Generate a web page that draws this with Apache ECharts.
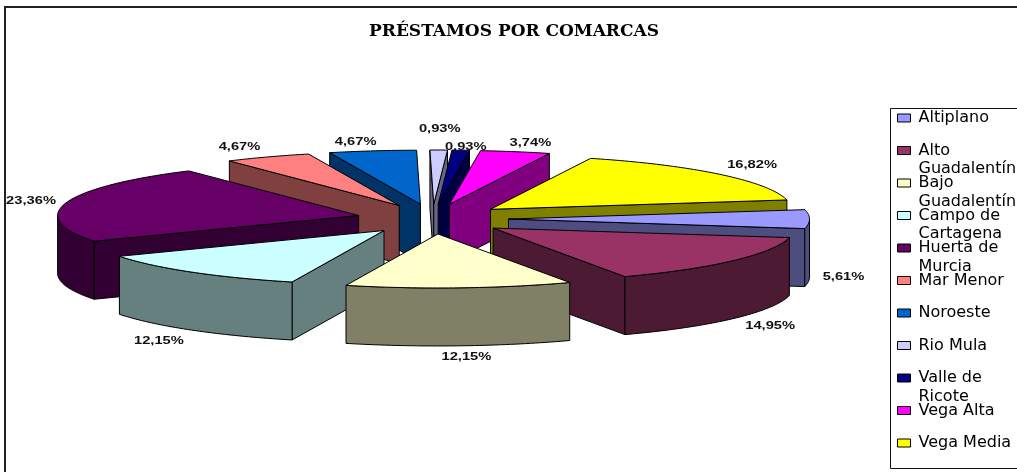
<!DOCTYPE html>
<html>
<head>
<meta charset="utf-8">
<style>html,body{margin:0;padding:0;background:#fff;overflow:hidden}#c{width:1017px;height:472px}</style>
<script src="https://cdn.jsdelivr.net/npm/echarts@6/dist/echarts.min.js"></script>
</head>
<body>
<div id="c"></div>
<script>
const categories = ['Altiplano','Alto Guadalentín','Bajo Guadalentín','Campo de Cartagena','Huerta de Murcia','Mar Menor','Noroeste','Rio Mula','Valle de Ricote','Vega Alta','Vega Media'];
const values = [5.61,14.95,12.15,12.15,23.36,4.67,4.67,0.93,0.93,3.74,16.82];
const colors = ['#9999FF','#993366','#FFFFCC','#CCFFFF','#660066','#FF8080','#0066CC','#CCCCFF','#000080','#FF00FF','#FFFF00'];
const legendLines = ['Altiplano','Alto\nGuadalentín','Bajo\nGuadalentín','Campo de\nCartagena','Huerta de\nMurcia','Mar Menor','Noroeste','Rio Mula','Valle de\nRicote','Vega Alta','Vega Media'];
const labelNudges = [[34,58],[37,65],[7,69],[-33,69],[-35,-2],[-28,-10],[-17,-9],[1,-21],[5,-3],[15,-9],[32,-9]];

const cx = 432.5, cy = 219, rx = 301, ry = 54, ex = 76, ey = 15, depth = 58, firstAngle = 80;
const total = values.reduce((a,b)=>a+b,0);
const rad = d => d*Math.PI/180;
const shade = hex => '#'+[1,3,5].map(i=>Math.round(parseInt(hex.substr(i,2),16)/2).toString(16).padStart(2,'0')).join('');
const text = v => v.toFixed(2).replace('.',',')+'%';

const spans = [];
values.reduce((acc,v)=>{ const a = acc + v/total*360; spans.push([acc,a]); return a; }, firstAngle);
const apexOf = i => { const m = rad((spans[i][0]+spans[i][1])/2); return [cx+ex*Math.sin(m), cy-ey*Math.cos(m)]; };
const order = values.map((_,i)=>i).sort((a,b)=>apexOf(a)[1]-apexOf(b)[1]);

function renderSlice(i, params, api){
  const v = api.value(0);
  const [a0,a1] = spans[i];
  const A = apexOf(i);
  const P = d => [A[0]+rx*Math.sin(rad(d)), A[1]-ry*Math.cos(rad(d))];
  const down = p => [p[0],p[1]+depth];
  const stroke = {stroke:'#000',lineWidth:1,lineJoin:'round'};
  const wallFill = shade(colors[i]);
  const kids = [];
  const M = P((a0+a1)/2);
  [a0,a1].forEach(d=>{
    const R = P(d), dx = R[0]-A[0], dy = R[1]-A[1];
    const cross = dx*(M[1]-A[1]) - dy*(M[0]-A[0]);
    if (cross*dx < 0) kids.push({type:'polygon',shape:{points:[A,R,down(R),down(A)]},style:Object.assign({fill:wallFill},stroke)});
  });
  // outer rim: only the stretch that faces the viewer (90..270 degrees)
  for (const shift of [0,360]) {
    const s = Math.max(a0,90+shift), e = Math.min(a1,270+shift);
    if (e > s) {
      const top = [];
      for (let d=s; d<e; d+=1) top.push(P(d));
      top.push(P(e));
      const pts = top.concat(top.slice().reverse().map(down));
      kids.push({type:'polygon',shape:{points:pts},style:Object.assign({fill:wallFill},stroke)});
    }
  }
  const face = [A];
  for (let d=a0; d<a1; d+=1) face.push(P(d));
  face.push(P(a1));
  kids.push({type:'polygon',shape:{points:face},style:Object.assign({fill:colors[i]},stroke)});
  const L = P((a0+a1)/2);
  kids.push({type:'text',x:L[0]+labelNudges[i][0],y:L[1]+labelNudges[i][1],scaleX:1.4,
    style:{text:text(v),align:'center',verticalAlign:'middle',fill:'#111',font:'bold 10.5px "Liberation Sans"'}});
  return {type:'group',children:kids};
}

const series = categories.map((name,i)=>({
  type:'custom', name, coordinateSystem:'none', silent:true, animation:false,
  z: 3+order.indexOf(i), itemStyle:{color:colors[i]},
  data:[[values[i]]], renderItem:(p,api)=>renderSlice(i,p,api)
}));

const legendStart = 118, legendStep = 32.5, lh = 18.5;
const legends = categories.map((name,i)=>{
  const two = legendLines[i].includes('\n');
  return {
    data:[name], left:897, top: legendStart + legendStep*i - (two ? lh*1.5 : lh/2) - 1,
    icon:'rect', itemWidth:13, itemHeight:8, itemGap:0, padding:0, selectedMode:false,
    itemStyle:{borderColor:'#000',borderWidth:1}, z:20,
    formatter:()=> two ? '\n'+legendLines[i] : legendLines[i],
    textStyle:{fontFamily:'"DejaVu Sans"',fontSize:16,color:'#000',lineHeight:lh,padding:[2,0,0,3]}
  };
});

const chart = echarts.init(document.getElementById('c'),null,{renderer:'canvas'});
chart.setOption({
  animation:false, backgroundColor:'#fff', color:colors,
  title:{text:'PRÉSTAMOS POR COMARCAS',left:369,top:23,padding:0,
    textStyle:{fontFamily:'"DejaVu Serif"',fontWeight:'bold',fontSize:17,color:'#000'}},
  legend:legends,
  graphic:[
    {type:'rect',z:0,silent:true,shape:{x:5,y:7,width:1040,height:500},style:{fill:'none',stroke:'#222',lineWidth:2}},
    {type:'rect',z:1,silent:true,shape:{x:890.5,y:108.5,width:160,height:360},style:{fill:'#fff',stroke:'#111',lineWidth:1}}
  ],
  series
});
</script>
</body>
</html>
